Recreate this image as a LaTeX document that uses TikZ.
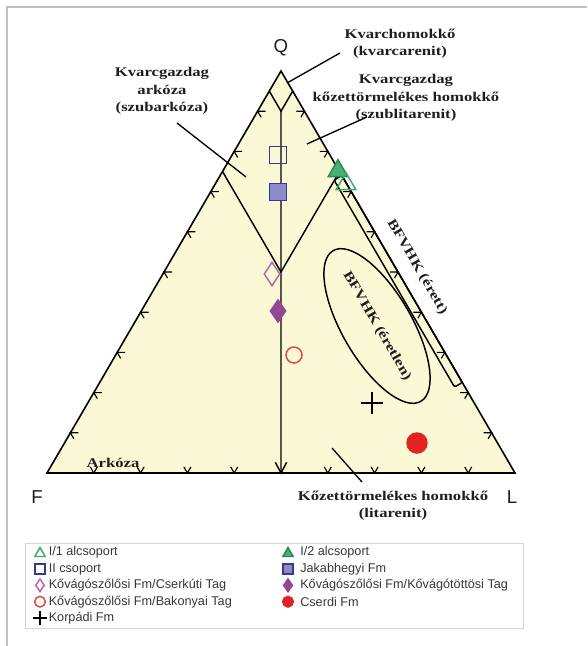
\documentclass[tikz,border=0pt]{standalone}
\usepackage{fontspec}
\setmainfont{Liberation Serif}
\newfontfamily\lblfont[FakeStretch=1.25]{Liberation Serif}
\newfontfamily\legfont{Liberation Sans}
\usetikzlibrary{calc,shapes.geometric,shapes.misc}
\definecolor{triFill}{RGB}{251,249,213}
\definecolor{grnC}{RGB}{60,170,105}
\definecolor{grnF}{RGB}{72,178,112}
\definecolor{bluC}{RGB}{58,58,140}
\definecolor{bluF}{RGB}{140,140,205}
\definecolor{pnkC}{RGB}{185,100,170}
\definecolor{purF}{RGB}{150,70,150}
\definecolor{redC}{RGB}{220,70,70}
\definecolor{redF}{RGB}{225,35,35}
\definecolor{frameGray}{RGB}{192,192,192}
\definecolor{legGray}{RGB}{212,212,212}
\definecolor{txtGray}{RGB}{55,55,55}
\definecolor{lblBlack}{RGB}{30,30,30}
\tikzset{
  sideline/.style={line width=1.2pt,draw=black},
  fieldline/.style={line width=1.1pt,draw=black},
  tickmark/.style={line width=0.85pt,draw=black},
  pointer/.style={line width=1pt,draw=black},
  fieldlabel/.style={font=\lblfont\bfseries\fontsize{10}{13}\selectfont,text=lblBlack,align=center,inner sep=0pt},
  cornerlabel/.style={font=\legfont\fontsize{14}{14}\selectfont,text=lblBlack,inner sep=0pt},
  legtext/.style={font=\legfont\fontsize{9.5}{11}\selectfont,text=txtGray,anchor=west,inner sep=0pt},
  mk/.style={inner sep=0pt,line width=1.1pt},
  opentri/.style={mk,regular polygon,regular polygon sides=3,draw=grnC,minimum size=#1},
  filltri/.style={mk,regular polygon,regular polygon sides=3,draw=grnC!80!black,fill=grnF,minimum size=#1},
  opensq/.style={mk,rectangle,draw=bluC,minimum size=#1},
  fillsq/.style={mk,rectangle,draw=bluC,fill=bluF,minimum size=#1},
  opendia/.style={mk,diamond,draw=pnkC,minimum width=0.67*#1,minimum height=#1},
  filldia/.style={mk,diamond,draw=purF,fill=purF,minimum width=0.7*#1,minimum height=#1},
  opencirc/.style={mk,circle,draw=redC,minimum size=#1},
  fillcirc/.style={mk,circle,draw=redF,fill=redF,minimum size=#1},
  plusmark/.style={mk,cross out,rotate=45,draw=black,minimum size=#1},
}
\begin{document}
\begin{tikzpicture}[x=0.75pt,y=-0.75pt]
\useasboundingbox (0,0) rectangle (587,646);
% frame
\draw[frameGray,line width=1.3pt] (7,646) -- (7,7) -- (587,7);
% corners
\coordinate (Q) at (281,71);
\coordinate (F) at (47,473);
\coordinate (L) at (515,473);
\coordinate (M) at ($(F)!0.5!(L)$);
\fill[triFill] (Q) -- (F) -- (L) -- cycle;
% field boundaries
\coordinate (qmL) at ($(Q)!0.05!(F)$);
\coordinate (qmR) at ($(Q)!0.05!(L)$);
\coordinate (qmV) at ($(Q)!0.1!(M)$);
\coordinate (sbL) at ($(Q)!0.25!(F)$);
\coordinate (sbR) at ($(Q)!0.25!(L)$);
\coordinate (sbV) at ($(Q)!0.5!(M)$);
\draw[fieldline] (qmL) -- (qmV) -- (qmR);
\draw[fieldline] (sbL) -- (sbV) -- (sbR);
\draw[fieldline] (qmV) -- (M);
\draw[fieldline] ($(M)+(-62:12)$) -- (M) -- ($(M)+(-118:12)$);
% ticks
\foreach \k in {1,...,9}{
  \coordinate (tl) at ($(Q)!\k/10!(F)$);
  \draw[tickmark] ($(tl)+(60:7)$) -- (tl) -- ($(tl)+(0:8)$);
  \coordinate (tr) at ($(Q)!\k/10!(L)$);
  \draw[tickmark] ($(tr)+(120:7)$) -- (tr) -- ($(tr)+(180:8)$);
}
\foreach \k in {1,2,3,4,6,7,8,9}{
  \coordinate (tb) at ($(F)!\k/10!(L)$);
  \draw[tickmark] ($(tb)+(-60:7)$) -- (tb) -- ($(tb)+(-120:7)$);
}
% mature BFVHK field
\coordinate (r1) at ($(Q)!0.26!(L)$);
\coordinate (r2) at ($(Q)!0.775!(L)$);
\draw[fieldline,rounded corners=1.5pt] (r1) -- (r2) -- ($(r2)+(150:9)$) -- ($(r1)+(150:9)$) -- cycle;
\node[fieldlabel,rotate=-59.8] (lEr) at (417,267) {BFVHK (érett)};
% immature BFVHK field
\node[fieldlabel,draw,fieldline,ellipse,rotate=-59.8,minimum width=106pt,minimum height=52pt] (lEt) at (377,326) {BFVHK (éretlen)};
% triangle outline
\draw[sideline,line join=miter] (Q) -- (F) -- (L) -- cycle;
% corner labels
\node[cornerlabel] (lQ) at (281,48) {Q};
\node[cornerlabel] (lF) at (37,497) {F};
\node[cornerlabel] (lL) at (512,497) {L};
% field labels
\node[fieldlabel] (lQm) at (400,44) {Kvarchomokkő\\(kvarcarenit)};
\node[fieldlabel] (lSubl) at (406,98) {Kvarcgazdag\\kőzettörmelékes homokkő\\(szublitarenit)};
\node[fieldlabel] (lSubark) at (162,91) {Kvarcgazdag\\arkóza\\(szubarkóza)};
\node[fieldlabel] (lArk) at (113,463) {Arkóza};
\node[fieldlabel] (lLit) at (393,506) {Kőzettörmelékes homokkő\\(litarenit)};
% pointers
\coordinate (pQmA) at (340,53);  \coordinate (pQmB) at (287,83);
\coordinate (pSbA) at (177,123); \coordinate (pSbB) at (246,177);
\coordinate (pSlA) at (367,117); \coordinate (pSlB) at (307,144);
\coordinate (pLiA) at (332,448); \coordinate (pLiB) at (362,482);
\draw[pointer] (pQmA) -- (pQmB);
\draw[pointer] (pSbA) -- (pSbB);
\draw[pointer] (pSlA) -- (pSlB);
\draw[pointer] (pLiA) -- (pLiB);
% data points
\node[filltri=17pt] (d12) at (338,171) {};
\node[opentri=17pt] (d11) at (346,184) {};
\node[opensq=13pt] (dII) at (278,155) {};
\node[fillsq=13pt] (dJak) at (278,192) {};
\node[opendia=18pt] (dCs) at (272,274) {};
\node[filldia=17pt] (dKv) at (278,311) {};
\node[opencirc=12pt] (dBak) at (294,355) {};
\node[plusmark=11pt] (dKor) at (372,403) {};
\node[fillcirc=15pt] (dCse) at (417,443) {};
% legend
\node[draw=legGray,line width=0.8pt,minimum width=373.5pt,minimum height=64pt,inner sep=0pt,anchor=north west] (leg) at (25,543) {};
\node[opentri=9pt] (g11) at (40,553.5) {};
\node[legtext] (t11) at (48.5,552.5) {I/1 alcsoport};
\node[opensq=7.5pt] (gII) at (40,569) {};
\node[legtext] (tII) at (48.5,569) {II csoport};
\node[opendia=10pt] (gCs) at (40,585.3) {};
\node[legtext] (tCs) at (48.5,585.3) {Kővágószőlősi Fm/Cserkúti Tag};
\node[opencirc=8pt] (gBak) at (40,601.7) {};
\node[legtext] (tBak) at (48.5,601.7) {Kővágószőlősi Fm/Bakonyai Tag};
\node[plusmark=7pt,line width=0.8pt] (gKor) at (40,618) {};
\node[legtext] (tKor) at (48.5,618) {Korpádi Fm};
\node[filltri=9pt] (g12) at (288,553.5) {};
\node[legtext] (t12) at (300,552.5) {I/2 alcsoport};
\node[fillsq=7.5pt] (gJak) at (288,569) {};
\node[legtext] (tJak) at (300,569) {Jakabhegyi Fm};
\node[filldia=10pt] (gKv) at (288,585.3) {};
\node[legtext] (tKv) at (300,585.3) {Kővágószőlősi Fm/Kővágótöttösi Tag};
\node[fillcirc=8pt] (gCse) at (288,601.7) {};
\node[legtext] (tCse) at (300,601.7) {Cserdi Fm};
\end{tikzpicture}
\end{document}
